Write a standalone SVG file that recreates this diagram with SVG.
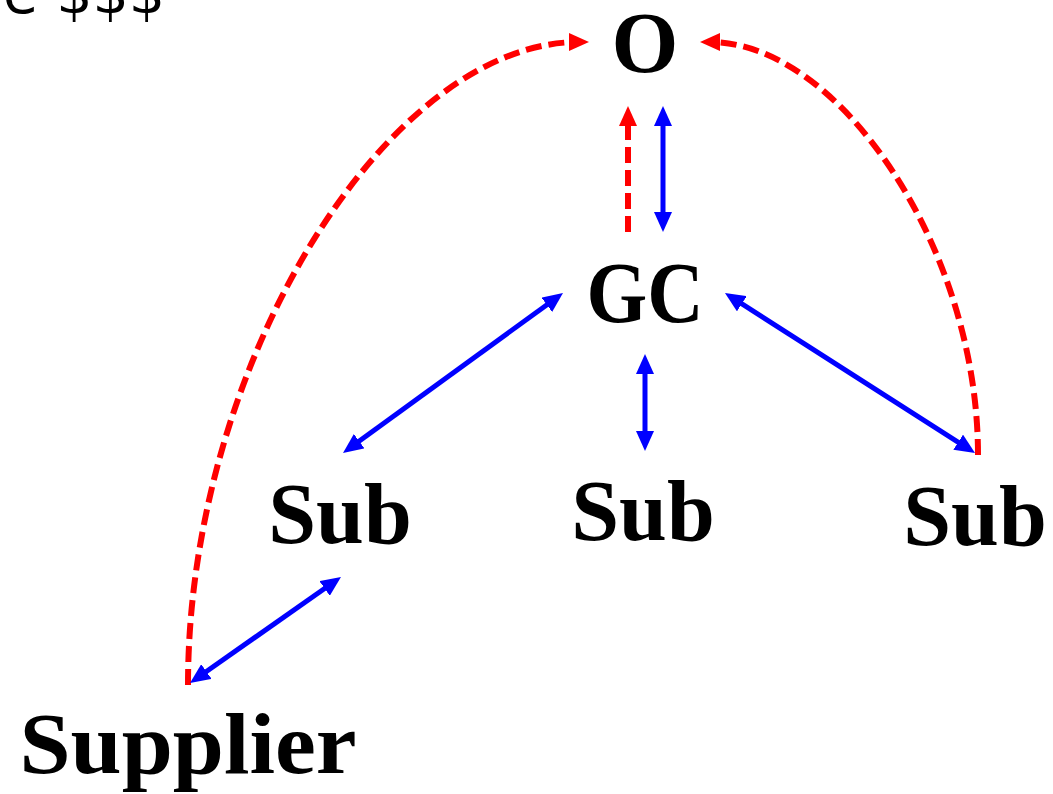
<svg xmlns="http://www.w3.org/2000/svg" width="1053" height="794" viewBox="0 0 1053 794">
<style>
.lbl{font-family:"Liberation Serif","Times New Roman",serif;font-weight:bold;font-size:86px;fill:#000;text-anchor:middle}
.top{font-family:"DejaVu Sans","Liberation Sans",sans-serif;font-size:57px;fill:#000}
.blue{stroke:#0000ff;stroke-width:5;fill:none;marker-start:url(#bh);marker-end:url(#bh)}
.red{stroke:#ff0000;stroke-width:6;fill:none;stroke-dasharray:16 7;marker-end:url(#rh)}
</style>
<defs>
<marker id="bh" markerUnits="userSpaceOnUse" markerWidth="20" markerHeight="18" refX="10" refY="9" orient="auto-start-reverse" viewBox="0 0 20 18">
<path d="M0,0 L20,9 L0,18 z" fill="#0000ff"/>
</marker>
<marker id="rh" markerUnits="userSpaceOnUse" markerWidth="20" markerHeight="18" refX="10" refY="9" orient="auto" viewBox="0 0 20 18">
<path d="M0,0 L20,9 L0,18 z" fill="#ff0000"/>
</marker>
</defs>
<rect width="1053" height="794" fill="#fff"/>
<text class="top" x="3" y="13">e $$$</text>
<g id="connectors">
<path class="red" d="M188,685 C188,363 388,42 579,42"/>
<path class="red" d="M978,455 C978,248 839,42 710,42"/>
<path class="red" d="M628,232 L628,116"/>
<path class="blue" d="M663,116 L663,222"/>
<path class="blue" d="M645,364 L645,441"/>
<path class="blue" d="M351.1,447.1 L554.9,298.9"/>
<path class="blue" d="M733.4,298.4 L966.6,447.6"/>
<path class="blue" d="M198.2,677.3 L332.8,582.7"/>
</g>
<g id="node-O"><text class="lbl" x="645" y="72">O</text></g>
<g id="node-GC"><text class="lbl" x="645" y="322" textLength="117" lengthAdjust="spacingAndGlyphs">GC</text></g>
<g id="node-Sub1"><text class="lbl" x="340" y="543">Sub</text></g>
<g id="node-Sub2"><text class="lbl" x="643" y="540">Sub</text></g>
<g id="node-Sub3"><text class="lbl" x="975" y="545">Sub</text></g>
<g id="node-Supplier"><text class="lbl" x="188" y="773" textLength="337" lengthAdjust="spacingAndGlyphs">Supplier</text></g>
</svg>
